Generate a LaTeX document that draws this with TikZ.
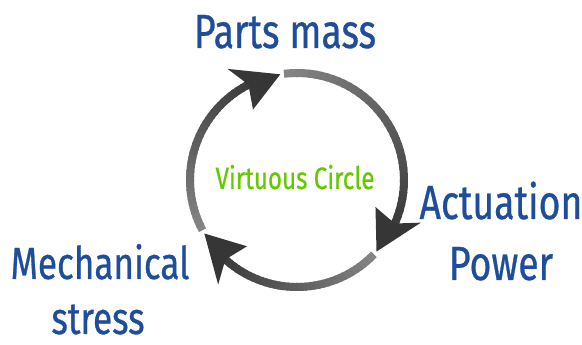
\documentclass[tikz,border=0pt]{standalone}
\usepackage{fontspec}
\setmainfont[FakeStretch=0.78,FakeBold=0.6]{Fira Sans}
\usetikzlibrary{calc}
\definecolor{lightg}{HTML}{858585}
\definecolor{darkg}{HTML}{363636}
\definecolor{labblue}{HTML}{1E4D9B}
\definecolor{virtgreen}{HTML}{66C800}
\newcommand{\Rad}{107}
\newcommand{\gradarc}[3]{%
  \foreach \k in {0,...,39}{%
    \pgfmathsetmacro{\aa}{#1+(#2-#1)*\k/40}%
    \pgfmathsetmacro{\bb}{#1+(#2-#1)*(\k+1.4)/40}%
    \pgfmathtruncatemacro{\pc}{100-\k*100/39}%
    \draw[arcseg, draw=lightg!\pc!darkg] ($(C)+(\aa:\Rad pt)$) arc[start angle=\aa, end angle=\bb, radius=\Rad pt];
  }%
  \pgfmathsetmacro{\tb}{#3+23}%
  \pgfmathsetmacro{\tn}{#3+18}%
  \fill[darkg] ($(C)+(#3:\Rad pt)$) -- ($(C)+(\tb:\Rad pt+24pt)$) -- ($(C)+(\tn:\Rad pt)$) -- ($(C)+(\tb:\Rad pt-24pt)$) -- cycle;
}
\tikzset{
  arcseg/.style={line width=8pt, line cap=butt},
  biglabel/.style={text=labblue, font=\fontsize{48}{58}\selectfont, inner sep=0pt, anchor=base},
  leftlabel/.style={biglabel, font=\fontsize{45}{54}\selectfont},
}
\begin{document}
\begin{tikzpicture}[x=1pt,y=1pt]
\useasboundingbox (0,0) rectangle (582,345);
\coordinate (C) at (297,165);
\gradarc{97}{-32}{-42}
\gradarc{-44}{-140}{-150}
\gradarc{208}{109}{99}
\node[text=virtgreen, font=\fontsize{31}{36}\selectfont, inner sep=0pt, anchor=base] (vc) at (295,156) {Virtuous Circle};
\node[biglabel] (pm) at (285,297) {Parts mass};
\node[biglabel] (ap1) at (501,126) {Actuation};
\node[biglabel] (ap2) at (501,65) {Power};
\node[leftlabel] (ms1) at (100,66) {Mechanical};
\node[leftlabel] (ms2) at (98,11) {stress};
\end{tikzpicture}
\end{document}
